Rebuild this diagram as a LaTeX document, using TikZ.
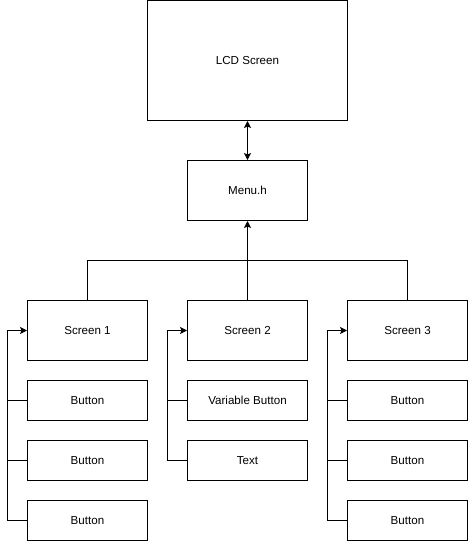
\documentclass[tikz,border=0pt]{standalone}
\usepackage{fontspec}
\setmainfont{Liberation Sans}
\usetikzlibrary{arrows.meta,positioning}
\tikzset{
  box/.style = {draw, line width=1pt, minimum width=120pt, minimum height=60pt, inner sep=0pt, font=\fontsize{11.6}{13}\selectfont},
  smallbox/.style = {box, minimum height=40pt},
  link/.style = {line width=1pt},
  tip/.style = {-{Stealth[length=7pt,width=7pt,inset=1.5pt]}},
}
\begin{document}
\begin{tikzpicture}[x=1pt, y=-1pt]
\useasboundingbox (0,0) rectangle (468,541);

% top of the chain
\node[box, minimum width=200pt, minimum height=120pt] (lcd) at (247.5,60.5) {LCD Screen};
\node[box] (menu) at (247.5,190.5) {Menu.h};

% screens
\node[box] (scr1) at (87.5,330.5) {Screen 1};
\node[box] (scr2) at (247.5,330.5) {Screen 2};
\node[box] (scr3) at (407.5,330.5) {Screen 3};

% elements below each screen
\node[smallbox] (btn11) at (87.5,400.5) {Button};
\node[smallbox] (btn12) at (87.5,460.5) {Button};
\node[smallbox] (btn13) at (87.5,520.5) {Button};
\node[smallbox] (var21) at (247.5,400.5) {Variable Button};
\node[smallbox] (txt22) at (247.5,460.5) {Text};
\node[smallbox] (btn31) at (407.5,400.5) {Button};
\node[smallbox] (btn32) at (407.5,460.5) {Button};
\node[smallbox] (btn33) at (407.5,520.5) {Button};

\coordinate (bus) at (0,260.5);
\coordinate (rail1) at (7.5,0);
\coordinate (rail2) at (167.5,0);
\coordinate (rail3) at (327.5,0);

\draw[link, {Stealth[length=7pt,width=7pt,inset=1.5pt]}-{Stealth[length=7pt,width=7pt,inset=1.5pt]}] (lcd) -- (menu);
\draw[link, tip] (scr2) -- (menu);
\draw[link] (scr1.north) -- (scr1.north |- bus) -| (scr3.north);

% side rails
\draw[link, tip] (btn13.west) -| (rail1 |- scr1.west) -- (scr1.west);
\foreach \b in {btn11,btn12}
  \draw[link] (\b.west) -- (\b.west -| rail1);
\draw[link, tip] (txt22.west) -| (rail2 |- scr2.west) -- (scr2.west);
\draw[link] (var21.west) -- (var21.west -| rail2);
\draw[link, tip] (btn33.west) -| (rail3 |- scr3.west) -- (scr3.west);
\foreach \b in {btn31,btn32}
  \draw[link] (\b.west) -- (\b.west -| rail3);

\end{tikzpicture}
\end{document}
